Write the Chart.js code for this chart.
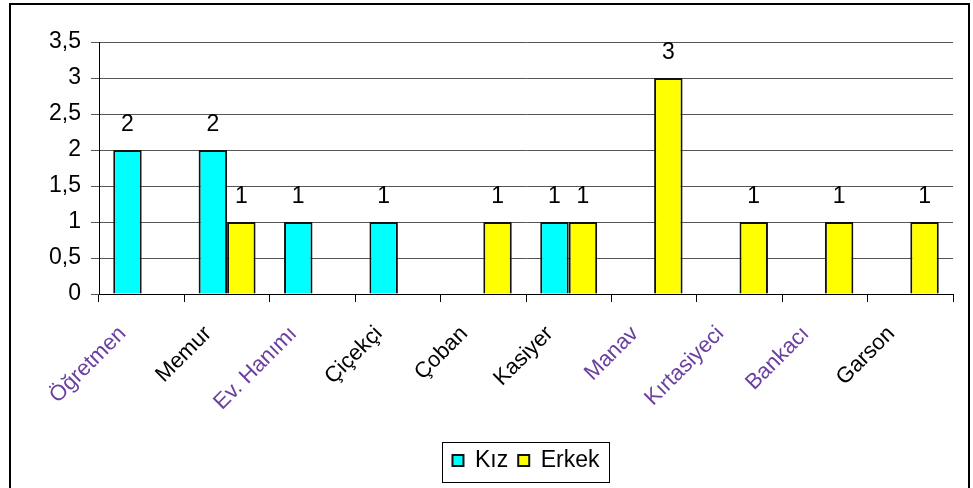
<!DOCTYPE html>
<html>
<head>
<meta charset="utf-8">
<script src="https://cdn.jsdelivr.net/npm/chart.js@4/dist/chart.umd.min.js"></script>
<style>
  html, body { margin: 0; padding: 0; background: #fff; }
  #wrap { width: 973px; height: 488px; position: relative; }
</style>
</head>
<body>
<div id="wrap"><canvas id="chart"></canvas></div>
<script>
const categories = ['Öğretmen', 'Memur', 'Ev. Hanımı', 'Çiçekçi', 'Çoban', 'Kasiyer', 'Manav', 'Kırtasiyeci', 'Bankacı', 'Garson'];
const kiz = [2, 2, 1, 1, 0, 1, 0, 0, 0, 0];
const erkek = [0, 1, 0, 0, 1, 1, 3, 1, 1, 1];
const yTicks = [0, 0.5, 1, 1.5, 2, 2.5, 3, 3.5];

// these labels come out purple-ish in the original
const labelColors = ['#6b3fa0', '#000', '#6b3fa0', '#000', '#000', '#000', '#6b3fa0', '#6b3fa0', '#6b3fa0', '#000'];

const FONT = "'Liberation Sans', Arial, sans-serif";

// outer frame of the chart
const framePlugin = {
  id: 'frame',
  beforeDraw(chart) {
    const ctx = chart.ctx;
    ctx.save();
    ctx.fillStyle = '#fff';
    ctx.fillRect(0, 0, chart.width, chart.height);
    ctx.strokeStyle = '#000';
    ctx.lineWidth = 2;
    ctx.strokeRect(10, 4, 959, 490);
    ctx.restore();
  }
};

// numbers above the bars
const valueLabels = {
  id: 'valueLabels',
  afterDatasetsDraw(chart) {
    const ctx = chart.ctx;
    ctx.save();
    ctx.font = '23px ' + FONT;
    ctx.fillStyle = '#000';
    ctx.textAlign = 'center';
    ctx.textBaseline = 'middle';
    chart.data.datasets.forEach((ds, i) => {
      const meta = chart.getDatasetMeta(i);
      meta.data.forEach((bar, j) => {
        if (ds.data[j] > 0) ctx.fillText(String(ds.data[j]), bar.x, bar.y - 25);
      });
    });
    ctx.restore();
  }
};

// box around the legend
const legendBox = {
  id: 'legendBox',
  afterDraw(chart) {
    const lg = chart.legend;
    if (!lg || !lg.legendHitBoxes.length) return;
    const hb = lg.legendHitBoxes;
    const first = hb[0], last = hb[hb.length - 1];
    const ctx = chart.ctx;
    ctx.save();
    ctx.strokeStyle = '#000';
    ctx.lineWidth = 1;
    ctx.strokeRect(Math.round(first.left) - 9.5, 442.5, Math.round(last.left + last.width - first.left) + 20, 40);
    ctx.restore();
  }
};

new Chart(document.getElementById('chart'), {
  type: 'bar',
  data: {
    labels: categories,
    datasets: [
      { label: 'Kız', data: kiz, backgroundColor: '#00ffff', borderColor: '#111', borderWidth: 2 },
      { label: 'Erkek', data: erkek, backgroundColor: '#ffff00', borderColor: '#111', borderWidth: 2 }
    ]
  },
  options: {
    responsive: true,
    maintainAspectRatio: false,
    animation: false,
    categoryPercentage: 2 / 3,
    barPercentage: 1,
    layout: { padding: { top: 42, right: 20, left: 0, bottom: 6 } },
    scales: {
      x: {
        offset: true,
        grid: { offset: true, drawOnChartArea: false, drawTicks: true, tickLength: 8, color: '#000' },
        border: { color: '#000', width: 1 },
        ticks: {
          minRotation: 45, maxRotation: 45, autoSkip: false,
          labelOffset: -19, padding: 19,
          font: { family: FONT, size: 22 },
          color: ctx => labelColors[ctx.index]
        },
        afterFit(scale) { scale.height = 145; }
      },
      y: {
        min: 0, max: 3.5,
        afterBuildTicks(scale) { scale.ticks = yTicks.map(v => ({ value: v })); },
        grid: { color: '#555', tickLength: 8, drawTicks: true },
        border: { color: '#000', width: 1 },
        ticks: {
          padding: 10,
          font: { family: FONT, size: 23 },
          color: '#000',
          callback: v => String(v).replace('.', ',')
        },
        afterFit(scale) { scale.width = 99; }
      }
    },
    plugins: {
      legend: {
        position: 'bottom',
        fullSize: false,
        labels: {
          boxWidth: 11, boxHeight: 11, padding: 10,
          color: '#000',
          font: { family: FONT, size: 23 }
        }
      },
      tooltip: { enabled: false }
    }
  },
  plugins: [framePlugin, valueLabels, legendBox]
});
</script>
</body>
</html>
